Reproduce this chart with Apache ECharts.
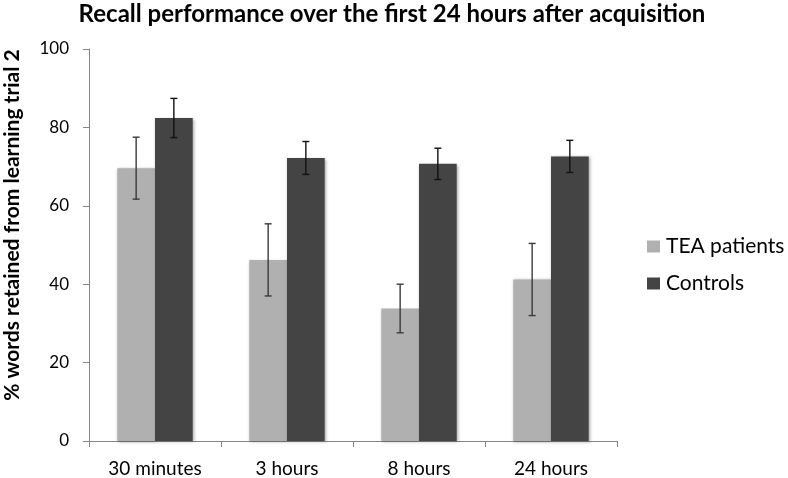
<!DOCTYPE html>
<html>
<head>
<meta charset="utf-8">
<script src="https://cdn.jsdelivr.net/npm/echarts@6/dist/echarts.min.js"></script>
<style>html,body{margin:0;padding:0;background:#fff}#c{width:788px;height:478px}</style>
</head>
<body>
<div id="c"></div>
<script>
var categories = ['30 minutes', '3 hours', '8 hours', '24 hours'];
var teaValues = [69.6, 46.2, 33.8, 41.2];
var teaErrors = [7.9, 9.2, 6.2, 9.2];
var controlValues = [82.4, 72.2, 70.7, 72.6];
var controlErrors = [5.0, 4.2, 4.0, 4.1];
var yTicks = [0, 20, 40, 60, 80, 100];

var FONT = 'Lato';
var chart = echarts.init(document.getElementById('c'), null, {renderer: 'canvas'});

function errorSeries(name, values, errs, offset, color) {
  return {
    type: 'custom',
    name: name + ' error',
    z: 10,
    silent: true,
    renderItem: function (params, api) {
      var i = api.value(0);
      var v = api.value(1);
      var e = api.value(2);
      var top = api.coord([i, v + e]);
      var bot = api.coord([i, v - e]);
      var x = top[0] + offset;
      var hw = 3.5;
      var st = {stroke: color, lineWidth: 1.4};
      return {
        type: 'group',
        children: [
          {type: 'line', shape: {x1: x, y1: top[1], x2: x, y2: bot[1]}, style: st},
          {type: 'line', shape: {x1: x - hw, y1: top[1], x2: x + hw, y2: top[1]}, style: st},
          {type: 'line', shape: {x1: x - hw, y1: bot[1], x2: x + hw, y2: bot[1]}, style: st}
        ]
      };
    },
    data: values.map(function (v, i) { return [i, v, errs[i]]; })
  };
}

var barW = 37.7;
var barStyle = function (c) {
  return {color: c, shadowColor: 'rgba(0,0,0,0.35)', shadowBlur: 3, shadowOffsetX: 1, shadowOffsetY: 1};
};

chart.setOption({
  animation: false,
  legend: {
    orient: 'vertical',
    left: 642, top: 231,
    itemWidth: 13, itemHeight: 12, itemGap: 16,
    icon: 'rect',
    data: ['TEA patients', 'Controls'],
    textStyle: {fontFamily: FONT, fontSize: 21, color: '#000', padding: [0, 0, 0, 1]}
  },
  grid: {left: 89, right: 171, top: 49, bottom: 36, containLabel: false},
  xAxis: {
    type: 'category',
    data: categories,
    axisLine: {lineStyle: {color: '#868686', width: 1}},
    axisTick: {show: true, length: 6, lineStyle: {color: '#868686'}},
    axisLabel: {fontFamily: FONT, fontSize: 19, color: '#000', margin: 18}
  },
  yAxis: {
    type: 'value',
    min: 0, max: 100, interval: 20,
    axisLine: {show: true, lineStyle: {color: '#868686', width: 1}},
    axisTick: {show: true, length: 6, lineStyle: {color: '#868686'}},
    splitLine: {show: false},
    axisLabel: {fontFamily: FONT, fontSize: 17, color: '#000', margin: 20,
      formatter: function (v) { return yTicks.indexOf(v) >= 0 ? String(v) : ''; }}
  },
  graphic: [{
    type: 'text',
    x: 392, y: 14,
    style: {
      text: 'Recall performance over the first 24 hours after acquisition',
      fontFamily: FONT, fontWeight: 'bold', fontSize: 24, fill: '#000',
      textAlign: 'center', textVerticalAlign: 'middle'
    }
  }, {
    type: 'text',
    x: 12, y: 225,
    rotation: Math.PI / 2,
    style: {
      text: '% words retained from learning trial 2',
      fontFamily: FONT, fontWeight: 'bold', fontSize: 21, fill: '#000',
      textAlign: 'center', textVerticalAlign: 'middle'
    }
  }],
  series: [
    {name: 'TEA patients', type: 'bar', data: teaValues, barWidth: barW, barGap: '0%',
      itemStyle: barStyle('#b0b0b0')},
    {name: 'Controls', type: 'bar', data: controlValues, barWidth: barW, barGap: '0%',
      itemStyle: barStyle('#444444')},
    errorSeries('TEA', teaValues, teaErrors, -barW / 2, '#3a3a3a'),
    errorSeries('Controls', controlValues, controlErrors, barW / 2, '#111')
  ]
});
</script>
</body>
</html>
